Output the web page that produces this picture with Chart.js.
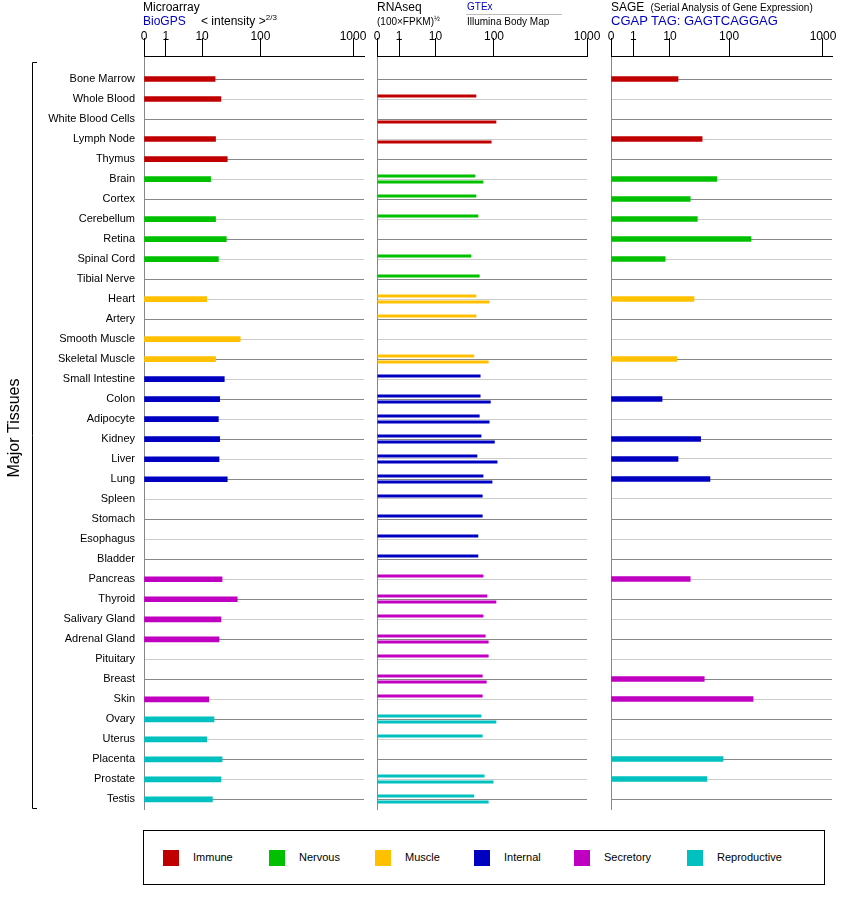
<!DOCTYPE html>
<html><head><meta charset="utf-8">
<script src="https://cdn.jsdelivr.net/npm/chart.js@4"></script>
<style>
body{margin:0;background:#fff;font-family:"Liberation Sans",Arial,sans-serif;}
#wrap{position:relative;width:842px;height:900px;}
canvas{position:absolute;top:0;}
.t{position:absolute;white-space:nowrap;color:#000;}
.blue{color:#0000c0;}
#legend{position:absolute;left:143px;top:830px;width:682px;height:55px;border:1px solid #000;box-sizing:border-box;}
.li{position:absolute;top:19px;font-size:11px;}
.li span{display:inline-block;width:16px;height:16px;vertical-align:middle;margin-right:14px;}
</style></head><body>
<div id="wrap">
<canvas id="c1" style="left:0px"></canvas>
<canvas id="c2" style="left:370px"></canvas>
<canvas id="c3" style="left:604px"></canvas>
<div class="t" style="left:143px;top:0px;font-size:12px">Microarray</div>
<div class="t blue" style="left:143px;top:14px;font-size:12px">BioGPS</div>
<div class="t" style="left:201px;top:13px;font-size:12px">&lt; intensity &gt;<sup style="font-size:8px">2/3</sup></div>
<div class="t" style="left:377px;top:0px;font-size:12px">RNAseq</div>
<div class="t" style="left:377px;top:15px;font-size:10px">(100×FPKM)<sup style="font-size:7px">½</sup></div>
<div class="t blue" style="left:467px;top:1px;font-size:10px">GTEx</div>
<div style="position:absolute;left:466px;top:14px;width:96px;height:1px;background:#bbb"></div>
<div class="t" style="left:467px;top:16px;font-size:10px">Illumina Body Map</div>
<div class="t" style="left:611px;top:0px;font-size:12px">SAGE <span style="font-size:10px">&nbsp;(Serial Analysis of Gene Expression)</span></div>
<div class="t blue" style="left:611px;top:13px;font-size:13px">CGAP TAG: GAGTCAGGAG</div>
<div id="legend"></div>
</div>
<script>
const categories=["Bone Marrow","Whole Blood","White Blood Cells","Lymph Node","Thymus","Brain","Cortex","Cerebellum","Retina","Spinal Cord","Tibial Nerve","Heart","Artery","Smooth Muscle","Skeletal Muscle","Small Intestine","Colon","Adipocyte","Kidney","Liver","Lung","Spleen","Stomach","Esophagus","Bladder","Pancreas","Thyroid","Salivary Gland","Adrenal Gland","Pituitary","Breast","Skin","Ovary","Uterus","Placenta","Prostate","Testis"];
const groupOf=[0,0,0,0,0,1,1,1,1,1,1,2,2,2,2,3,3,3,3,3,3,3,3,3,3,4,4,4,4,4,4,4,5,5,5,5,5];
const groupNames=["Immune","Nervous","Muscle","Internal","Secretory","Reproductive"];
const groupColors=["#c00000","#00c000","#ffc000","#0000c0","#c000c0","#00c0c0"];
const microarray=[16.7,21,null,17,27,14,null,17,26,19,null,12,null,45,17,24,20,19,20,19.5,27,null,null,null,null,22,40,21,19.5,null,null,13,16,12,22,21,15];
const rnaGTEx=[null,50,null,null,null,48,50,54,null,41,57,50,50,null,46,59,59,57,61,52,66,64,64,54,54,66,77,66,72,81,64,64,61,64,null,69,46];
const rnaIllumina=[null,null,106,91,null,66,null,null,null,null,null,84,null,null,81,null,88,84,102,109,94,null,null,null,null,null,106,null,81,null,75,null,106,null,null,98,81];
const sage=[13.7,null,null,35,null,62,22,29,171,7.4,null,25.5,null,null,13,null,6.1,null,33,13.7,47.5,null,null,null,null,22,null,null,null,null,38,180,null,null,79,42,null];
const tickValues=[0,1,10,100,1000];
const tickLabels=["0","1","10","100","1000"];

const BP=[[0,0.105],[1,0.278],[2,0.557],[3,1]];
function T(v){ if(v==null) return null; if(v<=0) return 0; if(v<1) return 0.105*v;
  const u=Math.log10(v); for(let i=0;i<BP.length-1;i++){ if(u<=BP[i+1][0]){const a=BP[i],b=BP[i+1];return a[1]+(u-a[0])/(b[0]-a[0])*(b[1]-a[1]);}}
  return 1+(u-3)*0.443; }
const colors=groupOf.map(g=>groupColors[g]);
const FONT="'Liberation Sans', Arial, sans-serif";

function makeChart(id,w,h,yWidth,padRight,xmax,datasets,showLabels,extra){
  const cv=document.getElementById(id); cv.width=w; cv.height=h; cv.style.width=w+'px'; cv.style.height=h+'px';
  return new Chart(cv,{type:'bar',data:{labels:categories,datasets},
   options:{indexAxis:'y',responsive:false,animation:false,devicePixelRatio:1,
    layout:{padding:{top:0,right:padRight,bottom:6,left:0}},
    plugins:{legend:{display:false},tooltip:{enabled:false}},
    scales:{
     x:{type:'linear',position:'top',min:0,max:xmax,weight:1,
        afterBuildTicks:s=>{s.ticks=tickValues.map(v=>({value:T(v)}));},
        afterFit:s=>{s.height=56;},
        ticks:{autoSkip:false,maxRotation:0,padding:-6,color:'#000',font:{family:FONT,size:12},callback:(v,i)=>tickLabels[i]},
        grid:{drawOnChartArea:false,tickLength:18,color:'#000',lineWidth:1},
        border:{display:true,color:'#000',width:1}},
     x2:{type:'linear',position:'top',min:0,max:xmax,weight:0,
        afterBuildTicks:s=>{s.ticks=[{value:0}];},
        afterFit:s=>{s.height=13;},
        ticks:{display:false},
        grid:{drawOnChartArea:false,tickLength:13,color:'#888',lineWidth:1},
        border:{display:false}},
     y:{type:'category',offset:true,
        afterFit:s=>{s.width=yWidth;},
        ticks:{display:showLabels,padding:9,color:'#000',font:{family:FONT,size:11}},
        grid:{offset:false,drawTicks:false,color:c=>c.index%2?'#cccccc':'#888888',lineWidth:1},
        border:{display:true,color:'#888',width:1}}
    }},plugins:extra?[extra]:[]});
}

const bracket={id:'bracket',afterDraw(ch){const c=ch.ctx;c.save();c.strokeStyle='#000';c.lineWidth=1;
  c.beginPath();c.moveTo(37,62.5);c.lineTo(32.5,62.5);c.lineTo(32.5,808.5);c.lineTo(37,808.5);c.stroke();
  c.translate(15,428);c.rotate(-Math.PI/2);c.fillStyle='#000';c.font="16px "+FONT;c.textAlign='center';c.textBaseline='middle';c.fillText('Major Tissues',0,0);c.restore();}};

makeChart('c1',370,825,144,6,220/209,[{data:microarray.map(T),backgroundColor:colors,barThickness:5}],true,bracket);
makeChart('c2',231,815,7,14,1.0,[
  {data:rnaGTEx.map(T),backgroundColor:colors,categoryPercentage:0.6,barPercentage:0.5},
  {data:rnaIllumina.map(T),backgroundColor:colors,categoryPercentage:0.6,barPercentage:0.5}],false);
makeChart('c3',238,815,7,10,221/212,[{data:sage.map(T),backgroundColor:colors,barThickness:5}],false);

const lx=[19,125,231,330,430,543];
const lg=document.getElementById('legend');
groupNames.forEach((n,i)=>{const d=document.createElement('div');d.className='li';d.style.left=lx[i]+'px';
 d.innerHTML='<span style="background:'+groupColors[i]+'"></span>'+n;lg.appendChild(d);});
</script>
</body></html>
